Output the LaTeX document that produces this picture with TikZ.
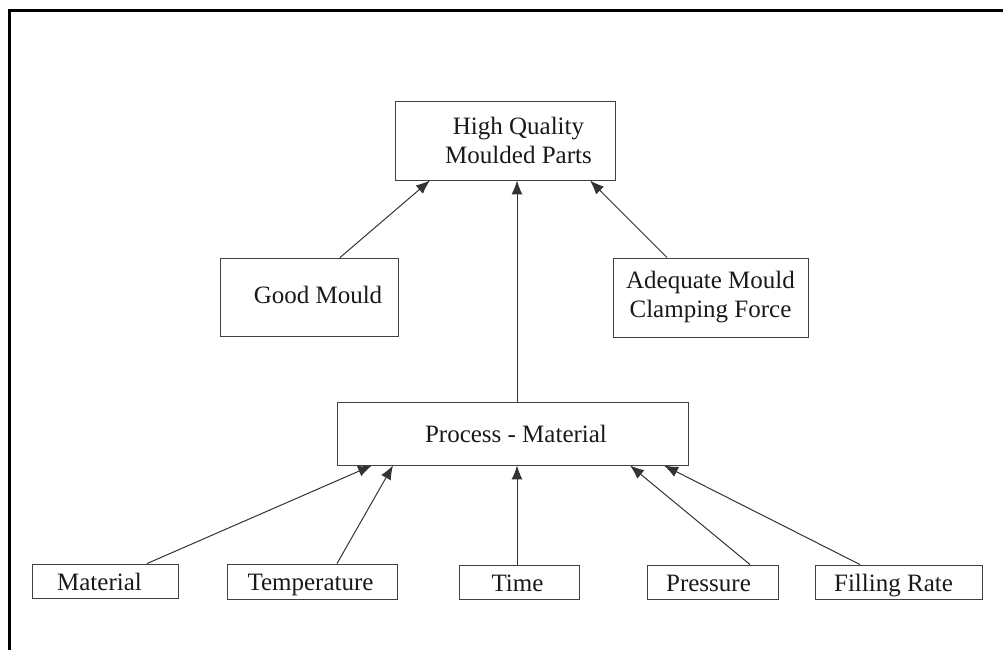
\documentclass[tikz,border=0pt]{standalone}
\usepackage{fontspec}
\setmainfont{Liberation Serif}
\usetikzlibrary{arrows.meta}
\begin{document}
\begin{tikzpicture}[x=1pt,y=-1pt,
  boxbase/.style={draw=black!75, line width=0.9pt, rectangle, inner sep=0pt,
    align=center, font=\fontsize{25}{29}\selectfont, text=black!90},
  box/.style={boxbase, text height=18pt, text depth=0pt},
  link/.style={draw=black!80, line width=1pt,
    -{Latex[length=14pt,width=11pt]}},
  frame/.style={draw=black, line width=3pt}]
\useasboundingbox (0,0) rectangle (1003,650);
% page frame (left and top edges)
\draw[frame] (9,650) -- (9,11) -- (1004,11);

% boxes
\node[boxbase, minimum width=220pt, minimum height=79pt] (hq) at (505,140.5)
  {\hspace*{27pt}High Quality\\\hspace*{27pt}Moulded Parts};
\node[box, text height=15pt, text depth=3pt,
  minimum width=178pt, minimum height=78pt] (gm) at (309,297)
  {\hspace*{18pt}Good Mould};
\node[boxbase, minimum width=195pt, minimum height=79pt] (ad) at (710.5,297.5)
  {Adequate Mould\\Clamping Force};
\node[box, text height=17pt, minimum width=351pt, minimum height=63pt] (pm)
  at (512.5,433.5) {\hspace*{7pt}Process - Material};
\node[box, minimum width=146pt, minimum height=34pt] (mat) at (105,581)
  {Material\hspace*{11pt}};
\node[box, minimum width=170pt, minimum height=35pt] (tmp) at (312,581.5)
  {Temperature\hspace*{3pt}};
\node[box, minimum width=120pt, minimum height=34pt] (tim) at (519,582)
  {Time\hspace*{3pt}};
\node[box, minimum width=131pt, minimum height=34pt] (prs) at (712.5,582)
  {Pressure\hspace*{8pt}};
\node[box, minimum width=167pt, minimum height=34pt] (fil) at (898.5,582)
  {Filling Rate\hspace*{10pt}};

% connectors into the top box
\draw[link] ([xshift=31pt]gm.north) -- ([xshift=-75pt]hq.south);
\draw[link] ([xshift=4.5pt]pm.north) -- ([xshift=12pt]hq.south);
\draw[link] ([xshift=-43.5pt]ad.north) -- ([xshift=85pt]hq.south);

% connectors into the process box
\draw[link] ([xshift=42pt]mat.north) -- ([xshift=-140.5pt]pm.south);
\draw[link] ([xshift=25pt]tmp.north) -- ([xshift=-119.5pt]pm.south);
\draw[link] ([xshift=-2pt]tim.north) -- ([xshift=4.5pt]pm.south);
\draw[link] ([xshift=37.5pt]prs.north) -- ([xshift=117.5pt]pm.south);
\draw[link] ([xshift=-38.5pt]fil.north) -- ([xshift=151.5pt]pm.south);
\end{tikzpicture}
\end{document}
